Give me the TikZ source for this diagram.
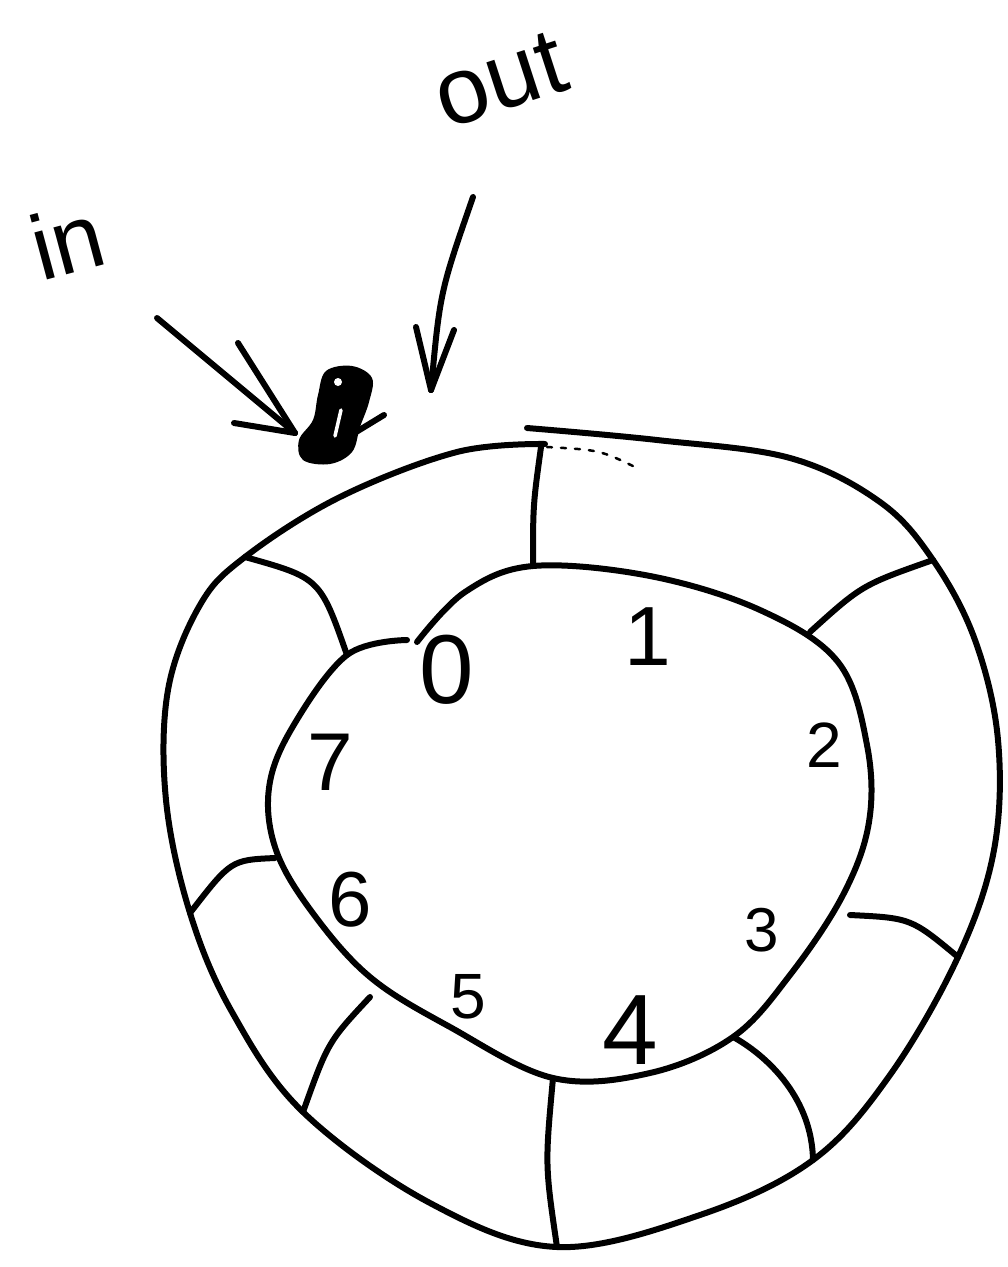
\documentclass[tikz,border=0pt]{standalone}
\usepackage{fontspec}
\setsansfont{Liberation Sans}
\begin{document}
\begin{tikzpicture}[x=1pt,y=-1pt,
  ink/.style={line width=6pt, line cap=round, line join=round},
  thinink/.style={line width=2.5pt, line cap=round, dash pattern=on 5pt off 9pt},
  digit/.style={font=\fontsize{#1}{#1}\selectfont\sffamily, inner sep=0pt},
  word/.style={font=\fontsize{#1}{#1}\selectfont\sffamily, inner sep=0pt}]
\useasboundingbox (0,0) rectangle (1008,1267);

% ---------- outer ring ----------
\draw[ink] plot[smooth, tension=0.6] coordinates {
 (527,428) (657,440) (790,458) (880,502) (933,560) (975,640) (998,740)
 (994,850) (958,957) (890,1075) (813,1160) (700,1215) (557,1247)
 (430,1203) (303,1112) (232,1012) (190,913) (166,800) (168,690)
 (200,605) (245,557) (340,497) (457,452) (545,444)};
\draw[thinink] (547,447) .. controls (600,450) .. (637,468);

% ---------- inner ring ----------
\draw[ink] plot[smooth, tension=0.6] coordinates {
 (417,642) (465,592) (533,566) (650,576) (760,610) (838,662) (867,745)
 (869,822) (843,895) (790,975) (733,1037) (650,1073) (553,1078)
 (450,1027) (370,977) (312,912) (276,850) (269,788) (292,728)
 (347,655) (407,640)};

% ---------- dividers ----------
\coordinate (i0) at (533,566); \coordinate (o0) at (541,447);
\coordinate (i1) at (810,632); \coordinate (o1) at (933,560);
\coordinate (i3) at (850,915); \coordinate (o3) at (958,957);
\coordinate (i4) at (735,1038); \coordinate (o4) at (813,1160);
\coordinate (ib) at (553,1078); \coordinate (ob) at (557,1247);
\coordinate (i5) at (370,997); \coordinate (o5) at (303,1112);
\coordinate (i6) at (275,858); \coordinate (o6) at (190,913);
\coordinate (i7) at (347,655); \coordinate (o7) at (245,557);

\draw[ink] (i0) .. controls (533,505) .. (o0);
\draw[ink] (i1) .. controls (862,585) .. (o1);
\draw[ink] (i3) .. controls (911,918) .. (o3);
\draw[ink] (i4) .. controls (770,1058) and (812,1100) .. (o4);
\draw[ink] (ib) .. controls (545,1165) .. (ob);
\draw[ink] (i5) .. controls (328,1042) .. (o5);
\draw[ink] (i6) .. controls (231,860) .. (o6);
\draw[ink] (i7) .. controls (320,578) .. (o7);

% ---------- slot numbers ----------
\node[digit=98]  (n0) at (447,670) {0};
\node[digit=84]  (n1) at (648,637) {1};
\node[digit=64]  (n2) at (824,745) {2};
\node[digit=62]  (n3) at (762,930) {3};
\node[digit=100] (n4) at (630,1030) {4};
\node[digit=64]  (n5) at (468,997) {5};
\node[digit=78]  (n6) at (350,900) {6};
\node[digit=82]  (n7) at (330,762) {7};

% ---------- scribbled marker ----------
\fill plot[smooth cycle, tension=0.6] coordinates {
 (326,371) (352,366) (372,378) (369,402) (360,427) (352,452) (330,464)
 (303,460) (299,440) (313,420) (318,395)};
\draw[ink] (343,440) -- (384,415);
\draw[line width=3.5pt, white, line cap=round] (341,410) -- (335,436);
\fill[white] (338,382) circle (4pt);
\coordinate (mark) at (335,415);

% ---------- labels and arrows ----------
\node[word=92, rotate=15] (inlbl) at (67,240) {in};
\node[word=95, rotate=18] (outlbl) at (500,80) {out};

\coordinate (inTail) at (157,318);
\coordinate (inTip) at (295,433);
\draw[ink] (inTail) -- (inTip);
\draw[ink] (inTip) -- ++(-57,-90);
\draw[ink] (inTip) -- ++(-61,-10);

\coordinate (outTail) at (473,197);
\coordinate (outTip) at (431,390);
\draw[ink] (outTail) .. controls (440,292) .. (outTip);
\draw[ink] (outTip) -- ++(-15,-63);
\draw[ink] (outTip) -- ++(23,-60);
\end{tikzpicture}
\end{document}
